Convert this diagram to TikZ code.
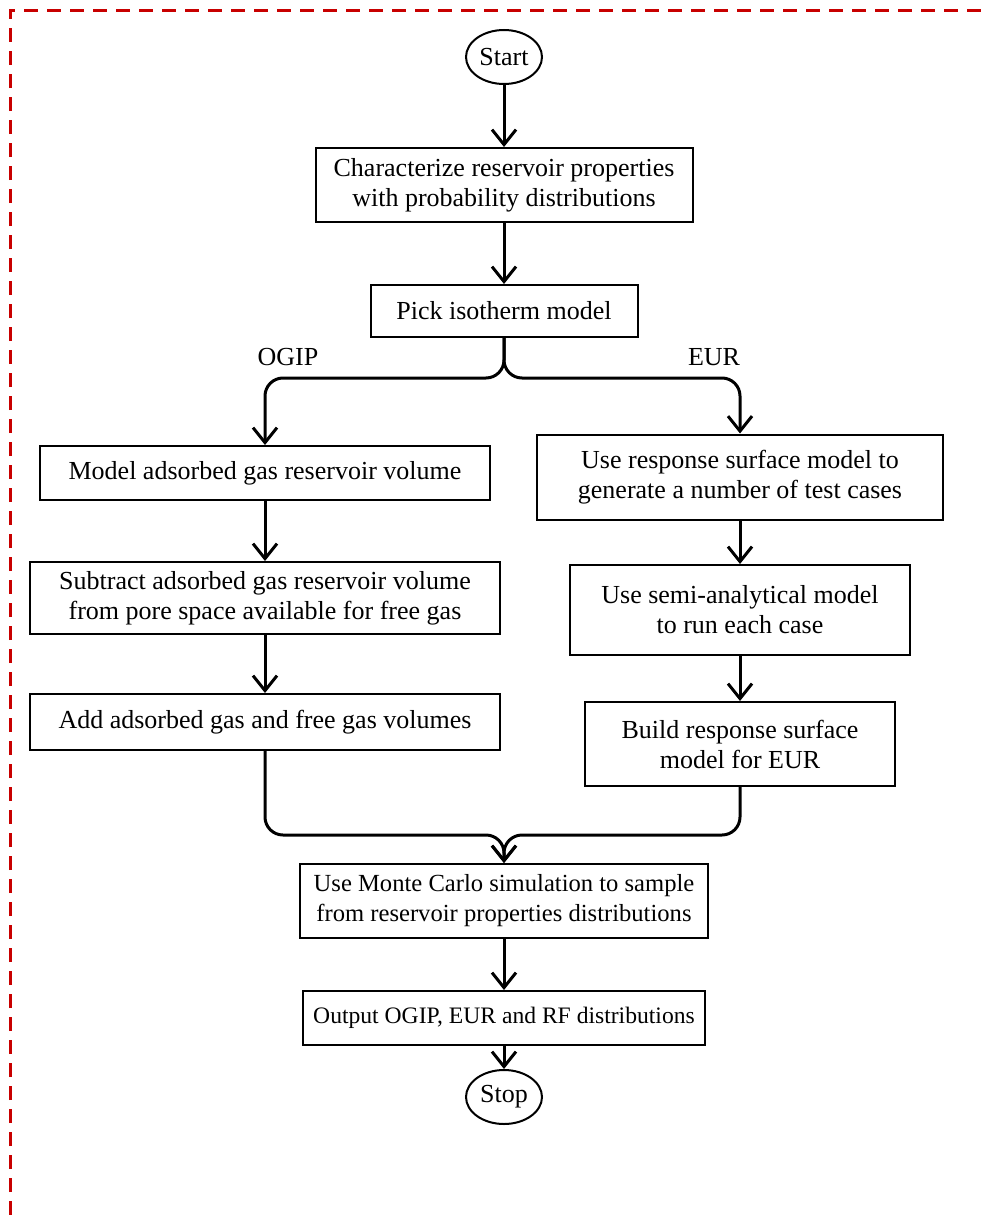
\documentclass[tikz,border=0pt]{standalone}
\usepackage{fontspec}
\setmainfont{Liberation Serif}
\usepackage{tikz}
\usetikzlibrary{shapes.geometric, positioning, arrows.meta}
\definecolor{FrameRed}{RGB}{200,0,0}

\begin{document}
\begin{tikzpicture}[x=0.5pt, y=-0.5pt,
      pbox/.style={rectangle, draw, line width=1pt, align=center,
                   font=\fontsize{13}{15}\selectfont, inner sep=0pt},
      term/.style={ellipse, draw, line width=1pt, minimum width=38pt,
                   minimum height=27pt, inner sep=0pt,
                   font=\fontsize{13}{15}\selectfont},
      arr/.style={-{Straight Barb[length=7.5pt, width=12pt]}, line width=1.5pt},
      link/.style={line width=1.5pt, rounded corners=9pt}
    ]
    \useasboundingbox (0,0) rectangle (987,1215);
    \draw[FrameRed, line width=1.5pt, dash pattern=on 7pt off 4.5pt]
      (10,1215) -- (10,10) -- (987,10);

    \node[term] (start) at (504, 57) {Start};
    \node[pbox, minimum width=188.5pt, minimum height=37pt] (charac) at (504, 185)
      {Characterize reservoir properties\\with probability distributions};
    \node[pbox, minimum width=133.5pt, minimum height=26pt] (pick) at (504, 311)
      {Pick isotherm model};

    % OGIP branch
    \node[pbox, minimum width=225pt, minimum height=27pt] (model) at (265, 473)
      {Model adsorbed gas reservoir volume};
    \node[pbox, minimum width=235pt, minimum height=36pt] (subtract) at (265, 598)
      {Subtract adsorbed gas reservoir volume\\from pore space available for free gas};
    \node[pbox, minimum width=235pt, minimum height=28pt] (add) at (265, 722)
      {Add adsorbed gas and free gas volumes};

    % EUR branch
    \node[pbox, minimum width=203pt, minimum height=42.5pt] (rsm) at (740, 477)
      {Use response surface model to\\generate a number of test cases};
    \node[pbox, minimum width=170pt, minimum height=45pt] (semi) at (740, 610)
      {Use semi-analytical model\\to run each case};
    \node[pbox, minimum width=155pt, minimum height=42pt] (build) at (740, 744)
      {Build response surface\\model for EUR};

    \node[pbox, minimum width=204pt, minimum height=37pt,
          font=\fontsize{12.3}{15}\selectfont] (monte) at (504, 901)
      {Use Monte Carlo simulation to sample\\from reservoir properties distributions};
    \node[pbox, minimum width=201pt, minimum height=27pt,
          font=\fontsize{11.8}{15}\selectfont] (output) at (504, 1018)
      {Output OGIP, EUR and RF distributions};
    \node[term] (stop) at (504, 1097) {Stop};

    \node[font=\fontsize{13}{15}\selectfont] (ogip) at (288, 357) {OGIP};
    \node[font=\fontsize{13}{15}\selectfont] (eur) at (714, 357) {EUR};

    \coordinate (split) at (504, 378);
    \coordinate (merge) at (504, 835);

    \draw[arr] (start) -- (charac);
    \draw[arr] (charac) -- (pick);
    \draw[arr, link] (pick.south) -- (split) -| (model.north);
    \draw[arr, link] (pick.south) -- (split) -| (rsm.north);
    \draw[arr] (model) -- (subtract);
    \draw[arr] (subtract) -- (add);
    \draw[arr] (rsm) -- (semi);
    \draw[arr] (semi) -- (build);
    \draw[arr, link] (add.south) |- (merge) -- (monte.north);
    \draw[arr, link] (build.south) |- (merge) -- (monte.north);
    \draw[arr] (monte) -- (output);
    \draw[arr] (output) -- (stop);
  \end{tikzpicture}
\end{document}
